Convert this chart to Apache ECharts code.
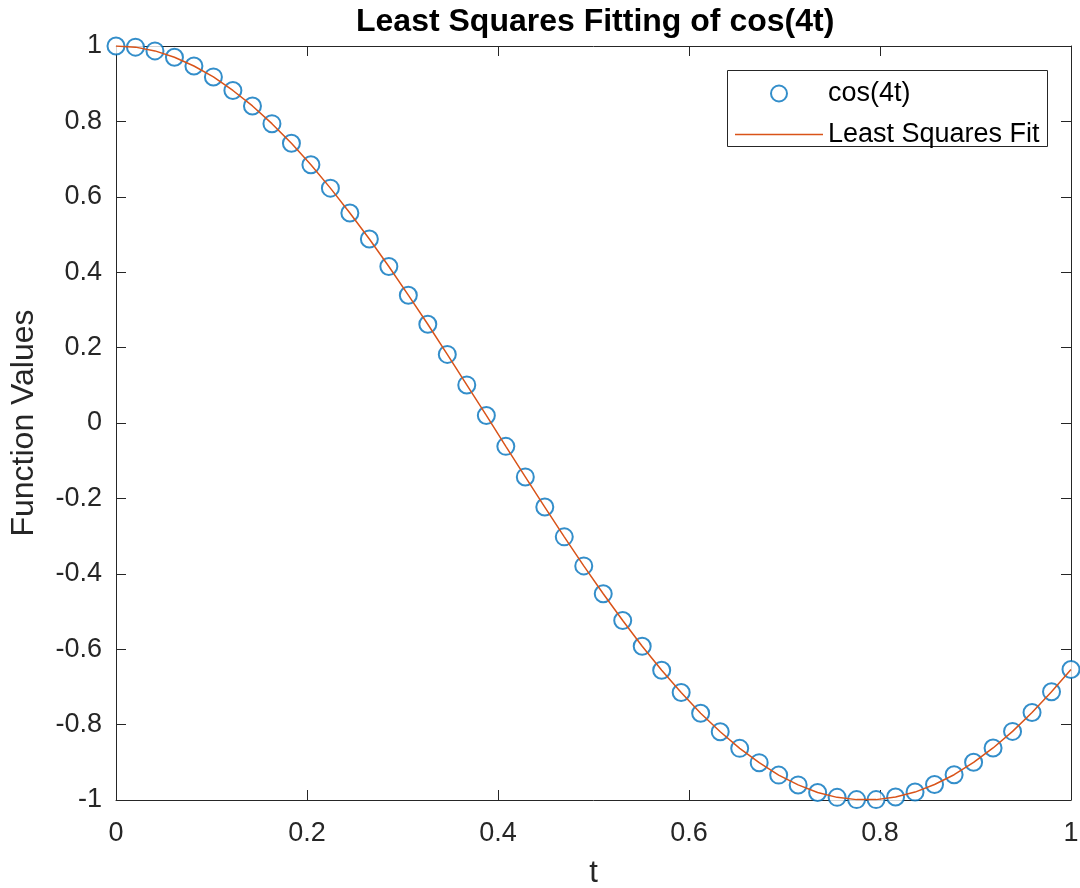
<!DOCTYPE html>
<html>
<head>
<meta charset="utf-8">
<script src="https://cdn.jsdelivr.net/npm/echarts@6/dist/echarts.min.js"></script>
<style>html,body{margin:0;padding:0;background:#fff}#c{width:1080px;height:888px}</style>
</head>
<body>
<div id="c"></div>
<script>
var tValues = [0, 0.0204, 0.0408, 0.0612, 0.0816, 0.1020, 0.1224, 0.1429, 0.1633, 0.1837,
  0.2041, 0.2245, 0.2449, 0.2653, 0.2857, 0.3061, 0.3265, 0.3469, 0.3673, 0.3878,
  0.4082, 0.4286, 0.4490, 0.4694, 0.4898, 0.5102, 0.5306, 0.5510, 0.5714, 0.5918,
  0.6122, 0.6327, 0.6531, 0.6735, 0.6939, 0.7143, 0.7347, 0.7551, 0.7755, 0.7959,
  0.8163, 0.8367, 0.8571, 0.8776, 0.8980, 0.9184, 0.9388, 0.9592, 0.9796, 1];
var cosValues = [1.000, 0.997, 0.987, 0.970, 0.947, 0.918, 0.882, 0.841, 0.794, 0.742,
  0.685, 0.623, 0.557, 0.488, 0.415, 0.339, 0.262, 0.182, 0.101, 0.020,
  -0.062, -0.143, -0.223, -0.302, -0.379, -0.453, -0.524, -0.592, -0.656, -0.715,
  -0.770, -0.819, -0.863, -0.901, -0.934, -0.960, -0.980, -0.993, -0.999, -0.999,
  -0.992, -0.979, -0.959, -0.933, -0.900, -0.862, -0.818, -0.768, -0.713, -0.654];
var fitValues = [1.000, 0.997, 0.987, 0.970, 0.947, 0.918, 0.882, 0.841, 0.794, 0.742,
  0.685, 0.623, 0.557, 0.488, 0.415, 0.339, 0.262, 0.182, 0.101, 0.020,
  -0.062, -0.143, -0.223, -0.302, -0.379, -0.453, -0.524, -0.592, -0.656, -0.715,
  -0.770, -0.819, -0.863, -0.901, -0.934, -0.960, -0.980, -0.993, -0.999, -0.999,
  -0.992, -0.979, -0.959, -0.933, -0.900, -0.862, -0.818, -0.768, -0.713, -0.654];
var seriesNames = ['cos(4t)', 'Least Squares Fit'];
var titleText = 'Least Squares Fitting of cos(4t)';
var xName = 't';
var yName = 'Function Values';

var FONT = '"Liberation Sans", Arial, Helvetica, sans-serif';
var AX = '#262626';

function pairs(xs, ys) { return xs.map(function (x, i) { return [x, ys[i]]; }); }

var chart = echarts.init(document.getElementById('c'), null, {renderer: 'canvas'});
var axisCommon = {
  type: 'value', min: 0, max: 1, interval: 0.2,
  splitLine: {show: false},
  axisLine: {show: true, onZero: false, lineStyle: {color: AX, width: 1}},
  axisTick: {show: true, inside: true, length: 10, lineStyle: {color: AX, width: 1}}
};
chart.setOption({
  animation: false,
  backgroundColor: '#fff',
  title: {
    text: titleText, left: 351, top: 1,
    textStyle: {fontFamily: FONT, fontSize: 32, fontWeight: 'bold', color: '#000'}
  },
  grid: {left: 116, right: 9, top: 46, bottom: 88, containLabel: false, outerBoundsMode: 'none'},
  graphic: [{
    type: 'rect', z: 1, shape: {x: 727.5, y: 70.5, width: 320, height: 76},
    style: {fill: '#fff', stroke: AX, lineWidth: 1}
  }],
  legend: {
    orient: 'vertical', left: 735, top: 80, itemWidth: 88, itemHeight: 16, itemGap: 14,
    z: 5, padding: 0, symbolKeepAspect: true,
    textStyle: {fontFamily: FONT, fontSize: 27, color: '#000'},
    data: [
      {name: seriesNames[0], icon: 'emptyCircle'},
      {name: seriesNames[1], icon: 'path://M0,0L88,0L88,1.5L0,1.5Z'}
    ]
  },
  xAxis: [
    Object.assign({}, axisCommon, {
      position: 'bottom', name: xName, nameLocation: 'middle', nameGap: 58,
      nameTextStyle: {fontFamily: FONT, fontSize: 31, color: AX},
      axisLabel: {fontFamily: FONT, fontSize: 27, color: AX, margin: 20}
    }),
    Object.assign({}, axisCommon, {position: 'top', axisLabel: {show: false}})
  ],
  yAxis: [
    Object.assign({}, axisCommon, {
      min: -1, max: 1, interval: 0.2, position: 'left',
      name: yName, nameLocation: 'middle', nameGap: 76,
      nameTextStyle: {fontFamily: FONT, fontSize: 32, color: AX},
      axisLabel: {fontFamily: FONT, fontSize: 27, color: AX, margin: 14}
    }),
    Object.assign({}, axisCommon, {min: -1, max: 1, interval: 0.2, position: 'right', axisLabel: {show: false}})
  ],
  series: [
    {
      name: seriesNames[0], type: 'scatter', clip: false,
      symbol: 'emptyCircle', symbolSize: 17,
      itemStyle: {color: '#0072BD', borderColor: '#0072BD', borderWidth: 1.4},
      data: pairs(tValues, cosValues), z: 3
    },
    {
      name: seriesNames[1], type: 'line', symbol: 'none', showSymbol: false,
      lineStyle: {color: '#D95319', width: 1.5}, itemStyle: {color: '#D95319'},
      data: pairs(tValues, fitValues), z: 4
    }
  ]
});
</script>
</body>
</html>
